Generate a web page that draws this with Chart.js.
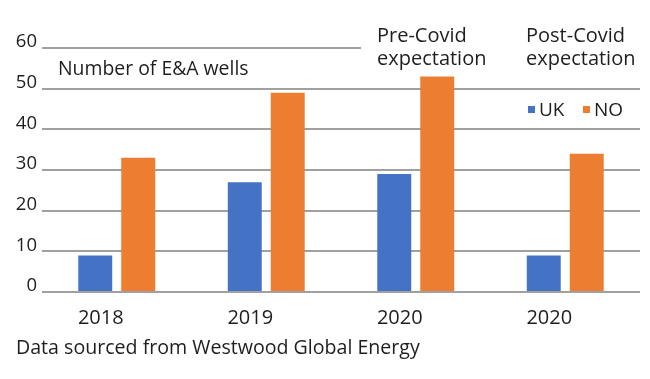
<!DOCTYPE html>
<html>
<head>
<meta charset="utf-8">
<script src="https://cdn.jsdelivr.net/npm/chart.js@4.4.1/dist/chart.umd.min.js"></script>
<style>
html,body{margin:0;padding:0;background:#fff;}
#wrap{width:650px;height:379px;position:relative;}
</style>
</head>
<body>
<div id="wrap"><canvas id="c" width="650" height="379"></canvas></div>
<script>
const categories = ["2018", "2019", "2020", "2020"];
const ukValues = [9, 27, 29, 9];
const noValues = [33, 49, 53, 34];
const seriesNames = ["UK", "NO"];
const yTicks = [0, 10, 20, 30, 40, 50, 60];
const chartLabel = "Number of E&A wells";
const preCovid = ["Pre-Covid", "expectation"];
const postCovid = ["Post-Covid", "expectation"];
const footer = "Data sourced from Westwood Global Energy";

const FONT = "'Open Sans', 'Noto Sans', sans-serif";
const TXT = "#1e1e1e";
const BLUE = "#4472C4";
const ORANGE = "#ED7D31";
const GRID = "#a0a0a0";

const annot = {
  id: "annot",
  beforeDatasetsDraw(chart) {
    const ctx = chart.ctx;
    const y = chart.scales.y;
    const ca = chart.chartArea;
    const y60 = y.getPixelForValue(60);
    ctx.save();
    ctx.fillStyle = "#fff";
    ctx.fillRect(361, y60 - 3, ca.right - 361 + 2, 6);
    ctx.restore();
  },
  afterDraw(chart) {
    const ctx = chart.ctx;
    ctx.save();
    ctx.fillStyle = TXT;
    ctx.textBaseline = "alphabetic";
    ctx.textAlign = "left";
    ctx.font = "19.4px " + FONT;
    ctx.fillText(chartLabel, 58, 75);
    ctx.font = "20px " + FONT;
    ctx.fillText(preCovid[0], 377, 42);
    ctx.fillText(preCovid[1], 377, 65);
    ctx.fillText(postCovid[0], 526, 42);
    ctx.fillText(postCovid[1], 526, 65);
    // legend
    const ds = chart.data.datasets;
    ctx.font = "19px " + FONT;
    ctx.fillStyle = ds[0].backgroundColor;
    ctx.fillRect(528, 106, 7, 7);
    ctx.fillStyle = TXT;
    ctx.fillText(ds[0].label, 539, 116);
    ctx.fillStyle = ds[1].backgroundColor;
    ctx.fillRect(583, 106, 7, 7);
    ctx.fillStyle = TXT;
    ctx.fillText(ds[1].label, 594, 116);
    // footer
    ctx.font = "19.6px " + FONT;
    ctx.fillText(footer, 16, 354);
    ctx.restore();
  }
};

new Chart(document.getElementById("c"), {
  type: "bar",
  data: {
    labels: categories,
    datasets: [
      { label: seriesNames[0], data: ukValues, backgroundColor: BLUE, categoryPercentage: 0.575, barPercentage: 0.79 },
      { label: seriesNames[1], data: noValues, backgroundColor: ORANGE, categoryPercentage: 0.575, barPercentage: 0.79 }
    ]
  },
  options: {
    responsive: false,
    animation: false,
    devicePixelRatio: 1,
    layout: { padding: { top: 48, right: 10, left: 0, bottom: 0 } },
    plugins: { legend: { display: false }, tooltip: { enabled: false }, title: { display: false } },
    scales: {
      x: {
        grid: { display: false },
        border: { display: false },
        ticks: { color: TXT, font: { family: FONT, size: 20 }, labelOffset: -16, padding: 6, maxRotation: 0 },
        afterFit(s) { s.height = 87; }
      },
      y: {
        min: 0, max: 60,
        afterBuildTicks(s) { s.ticks = yTicks.map(v => ({ value: v })); },
        grid: { color: GRID, lineWidth: 2, drawTicks: false },
        border: { display: false },
        ticks: { color: TXT, font: { family: FONT, size: 18.5 }, padding: 5, labelOffset: -6 },
        afterFit(s) { s.width = 42; }
      }
    }
  },
  plugins: [annot]
});
</script>
</body>
</html>
